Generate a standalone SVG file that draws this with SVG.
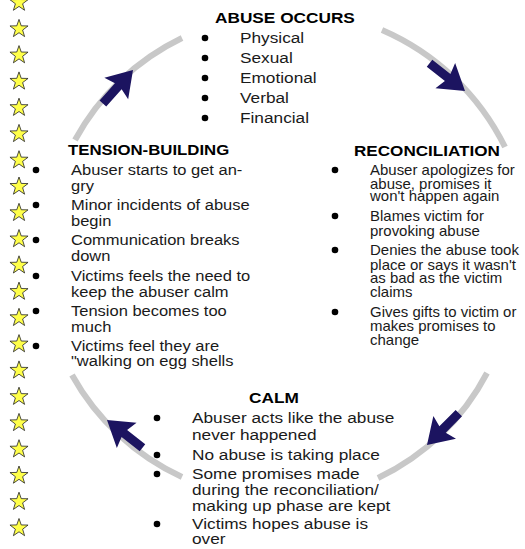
<svg xmlns="http://www.w3.org/2000/svg" xmlns:xlink="http://www.w3.org/1999/xlink" width="525" height="549" viewBox="0 0 525 549">
<style>
  .h { font-family: "Liberation Sans", Arial, sans-serif; font-size: 15px; font-weight: bold; fill: #000; }
  .t { font-family: "Liberation Sans", Arial, sans-serif; font-size: 15px; fill: #1a1a1a; }
  .s { font-family: "Liberation Sans", Arial, sans-serif; font-size: 14px; fill: #1a1a1a; }
  .b { fill: #000; }
  .arc { fill: none; stroke: #c8c8c8; stroke-width: 6; }
  .arr { fill: #1c1460; }
  .star { fill: #ffff4a; stroke: #222; stroke-width: 0.8; stroke-linejoin: round; }
</style>
<defs>
  <path id="star" class="star" d="M0,-9.5 L2.234,-3.074 L9.035,-2.936 L3.614,1.174 L5.584,7.686 L0,3.8 L-5.584,7.686 L-3.614,1.174 L-9.035,-2.936 L-2.234,-3.074 Z"/>
  <polygon id="arrow" class="arr" points="0,0 -25,-16 -22,-4.5 -45,-4.5 -45,4.5 -22,4.5 -25,16"/>
</defs>
<rect width="525" height="549" fill="#fff"/>

<g id="stars">
  <use xlink:href="#star" href="#star" x="19" y="2.6"/>
  <use xlink:href="#star" href="#star" x="19" y="28.9"/>
  <use xlink:href="#star" href="#star" x="19" y="55.1"/>
  <use xlink:href="#star" href="#star" x="19" y="81.4"/>
  <use xlink:href="#star" href="#star" x="19" y="107.7"/>
  <use xlink:href="#star" href="#star" x="19" y="133.9"/>
  <use xlink:href="#star" href="#star" x="19" y="160.2"/>
  <use xlink:href="#star" href="#star" x="19" y="186.5"/>
  <use xlink:href="#star" href="#star" x="19" y="212.8"/>
  <use xlink:href="#star" href="#star" x="19" y="239.0"/>
  <use xlink:href="#star" href="#star" x="19" y="265.3"/>
  <use xlink:href="#star" href="#star" x="19" y="291.6"/>
  <use xlink:href="#star" href="#star" x="19" y="317.8"/>
  <use xlink:href="#star" href="#star" x="19" y="344.1"/>
  <use xlink:href="#star" href="#star" x="19" y="370.4"/>
  <use xlink:href="#star" href="#star" x="19" y="396.7"/>
  <use xlink:href="#star" href="#star" x="19" y="422.9"/>
  <use xlink:href="#star" href="#star" x="19" y="449.2"/>
  <use xlink:href="#star" href="#star" x="19" y="475.5"/>
  <use xlink:href="#star" href="#star" x="19" y="501.7"/>
  <use xlink:href="#star" href="#star" x="19" y="528.0"/>
</g>

<g id="connectors">
  <path class="arc" d="M75,140 A240,240 0 0,1 182,38"/>
  <path class="arc" d="M382,30 A246,246 0 0,1 505,147"/>
  <path class="arc" d="M487,373 A238,238 0 0,1 378,478"/>
  <path class="arc" d="M182,477 A241,241 0 0,1 72,375"/>
  <use xlink:href="#arrow" href="#arrow" transform="translate(133,70) rotate(-48)"/>
  <use xlink:href="#arrow" href="#arrow" transform="translate(465,91) rotate(38)"/>
  <use xlink:href="#arrow" href="#arrow" transform="translate(427,445) rotate(135)"/>
  <use xlink:href="#arrow" href="#arrow" transform="translate(107,420) rotate(-142)"/>
</g>

<g id="abuse-occurs">
  <text class="h" transform="translate(215,23) scale(1.15,1)">ABUSE OCCURS</text>
  <circle class="b" cx="205" cy="38" r="3.3"/>
  <circle class="b" cx="205" cy="58" r="3.3"/>
  <circle class="b" cx="205" cy="78" r="3.3"/>
  <circle class="b" cx="205" cy="98" r="3.3"/>
  <circle class="b" cx="205" cy="118" r="3.3"/>
  <text class="t" transform="translate(240,43) scale(1.15,1)">Physical</text>
  <text class="t" transform="translate(240,63) scale(1.15,1)">Sexual</text>
  <text class="t" transform="translate(240,83) scale(1.15,1)">Emotional</text>
  <text class="t" transform="translate(240,103) scale(1.15,1)">Verbal</text>
  <text class="t" transform="translate(240,123) scale(1.15,1)">Financial</text>
</g>

<g id="tension-building">
  <text class="h" transform="translate(68,155) scale(1.12,1)">TENSION-BUILDING</text>
  <circle class="b" cx="36" cy="170" r="3.3"/>
  <circle class="b" cx="36" cy="205" r="3.3"/>
  <circle class="b" cx="36" cy="240" r="3.3"/>
  <circle class="b" cx="36" cy="276" r="3.3"/>
  <circle class="b" cx="36" cy="311" r="3.3"/>
  <circle class="b" cx="36" cy="346" r="3.3"/>
  <text class="t" transform="translate(71,175) scale(1.1,1)">Abuser starts to get an-</text>
  <text class="t" transform="translate(71,191) scale(1.1,1)">gry</text>
  <text class="t" transform="translate(71,210) scale(1.1,1)">Minor incidents of abuse</text>
  <text class="t" transform="translate(71,226) scale(1.1,1)">begin</text>
  <text class="t" transform="translate(71,245) scale(1.1,1)">Communication breaks</text>
  <text class="t" transform="translate(71,261) scale(1.1,1)">down</text>
  <text class="t" transform="translate(71,281) scale(1.1,1)">Victims feels the need to</text>
  <text class="t" transform="translate(71,297) scale(1.1,1)">keep the abuser calm</text>
  <text class="t" transform="translate(71,316) scale(1.1,1)">Tension becomes too</text>
  <text class="t" transform="translate(71,332) scale(1.1,1)">much</text>
  <text class="t" transform="translate(71,351) scale(1.1,1)">Victims feel they are</text>
  <text class="t" transform="translate(71,366) scale(1.1,1)">"walking on egg shells</text>
</g>

<g id="reconciliation">
  <text class="h" transform="translate(354,156) scale(1.14,1)">RECONCILIATION</text>
  <circle class="b" cx="335" cy="170" r="3.3"/>
  <circle class="b" cx="335" cy="216" r="3.3"/>
  <circle class="b" cx="335" cy="250" r="3.3"/>
  <circle class="b" cx="335" cy="312" r="3.3"/>
  <text class="s" transform="translate(370,175) scale(1.07,1)">Abuser apologizes for</text>
  <text class="s" transform="translate(370,189) scale(1.07,1)">abuse, promises it</text>
  <text class="s" transform="translate(370,201) scale(1.07,1)">won't happen again</text>
  <text class="s" transform="translate(370,221) scale(1.07,1)">Blames victim for</text>
  <text class="s" transform="translate(370,236) scale(1.07,1)">provoking abuse</text>
  <text class="s" transform="translate(370,255) scale(1.07,1)">Denies the abuse took</text>
  <text class="s" transform="translate(370,270) scale(1.07,1)">place or says it wasn't</text>
  <text class="s" transform="translate(370,283) scale(1.07,1)">as bad as the victim</text>
  <text class="s" transform="translate(370,297) scale(1.07,1)">claims</text>
  <text class="s" transform="translate(370,317) scale(1.07,1)">Gives gifts to victim or</text>
  <text class="s" transform="translate(370,331) scale(1.07,1)">makes promises to</text>
  <text class="s" transform="translate(370,345) scale(1.07,1)">change</text>
</g>

<g id="calm">
  <text class="h" transform="translate(249,403) scale(1.15,1)">CALM</text>
  <circle class="b" cx="157" cy="418" r="3.3"/>
  <circle class="b" cx="157" cy="455" r="3.3"/>
  <circle class="b" cx="157" cy="474" r="3.3"/>
  <circle class="b" cx="157" cy="524" r="3.3"/>
  <text class="t" transform="translate(192,423) scale(1.15,1)">Abuser acts like the abuse</text>
  <text class="t" transform="translate(192,440) scale(1.15,1)">never happened</text>
  <text class="t" transform="translate(192,460) scale(1.15,1)">No abuse is taking place</text>
  <text class="t" transform="translate(192,479) scale(1.15,1)">Some promises made</text>
  <text class="t" transform="translate(192,495) scale(1.15,1)">during the reconciliation/</text>
  <text class="t" transform="translate(192,511) scale(1.15,1)">making up phase are kept</text>
  <text class="t" transform="translate(192,529) scale(1.15,1)">Victims hopes abuse is</text>
  <text class="t" transform="translate(192,544) scale(1.15,1)">over</text>
</g>
</svg>
